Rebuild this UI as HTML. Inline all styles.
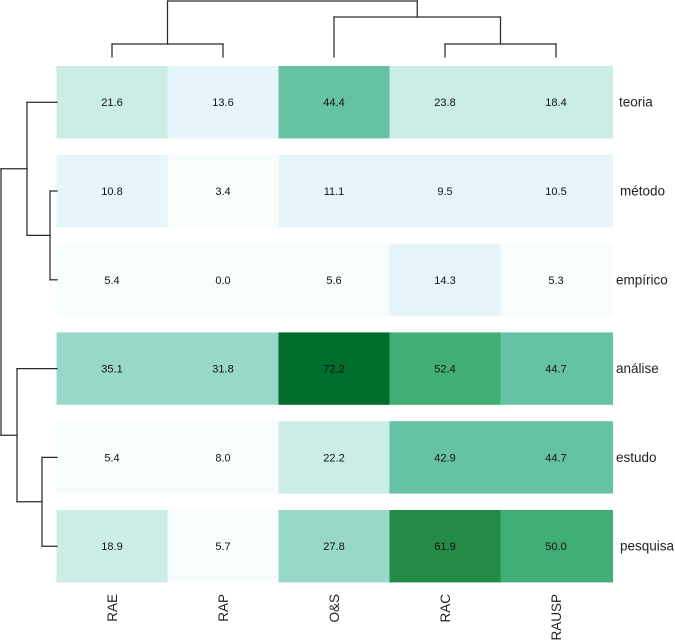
<!DOCTYPE html>
<html lang="pt">
<head>
<meta charset="utf-8">
<title>Heatmap</title>
<style>
html,body{margin:0;padding:0;background:#fff;width:675px;height:641px;overflow:hidden}
svg{display:block;font-family:"Liberation Sans",Arial,sans-serif}
</style>
</head>
<body>
<svg id="chart" xmlns="http://www.w3.org/2000/svg" width="675" height="641" viewBox="0 0 675 641">
  <g id="cells"></g>
  <g id="values"></g>
  <g id="rowlabels"></g>
  <g id="collabels"></g>
  <g id="coldendro"></g>
  <g id="rowdendro"></g>
</svg>
<script>
const columns = ['RAE', 'RAP', 'O&S', 'RAC', 'RAUSP'];
const rows = ['teoria', 'método', 'empírico', 'análise', 'estudo', 'pesquisa'];
const teoria = [21.6, 13.6, 44.4, 23.8, 18.4];
const metodo = [10.8, 3.4, 11.1, 9.5, 10.5];
const empirico = [5.4, 0.0, 5.6, 14.3, 5.3];
const analise = [35.1, 31.8, 72.2, 52.4, 44.7];
const estudo = [5.4, 8.0, 22.2, 42.9, 44.7];
const pesquisa = [18.9, 5.7, 27.8, 61.9, 50.0];
const palette = ['#F7FCFD', '#E5F5F9', '#CCECE6', '#99D8C9', '#66C2A4', '#41AE76', '#238B45', '#006D2C'];
// dendrogram merges: [left child, right child, height]; a number child is a leaf index
const colTree = [[[0, 1, 13], [2, [3, 4, 13], 40], 56]];
const rowTree = [[[0, [1, 2, 7], 30], [3, [4, 5, 15], 40], 56]];

const matrix = [teoria, metodo, empirico, analise, estudo, pesquisa];
const NS = 'http://www.w3.org/2000/svg';
const colStep = 111, rowStep = 88.8, cellH = 72.4;
const heatLeft = 56.5, heatRight = 613, heatTop = 66;
const colEdge = j => heatLeft + colStep * j;
const colCenter = j => colEdge(j) + colStep / 2;
const rowEdge = i => heatTop + rowStep * i;
const rowCenter = i => rowEdge(i) + cellH / 2;
const maxValue = Math.max(...matrix.flat());
const colorOf = v => palette[Math.min(palette.length - 1, Math.floor(v / maxValue * palette.length))];
const colHeightY = h => 57 - h;
const rowHeightX = h => 57 - h;
const rowLabelLeft = i => (i === 2 || i === 3 || i === 4) ? 616 : (i === 0 ? 619 : 620);

function make(tag, attrs, parent, text) {
  const el = document.createElementNS(NS, tag);
  for (const k in attrs) el.setAttribute(k, attrs[k]);
  if (text !== undefined) el.textContent = text;
  parent.appendChild(el);
  return el;
}

const cellsG = document.getElementById('cells');
const valuesG = document.getElementById('values');
const rowLabelsG = document.getElementById('rowlabels');
const colLabelsG = document.getElementById('collabels');

matrix.forEach((rowVals, i) => {
  rowVals.forEach((v, j) => {
    const right = j === columns.length - 1 ? heatRight : colEdge(j + 1);
    const rect = make('rect', {x: colEdge(j), y: rowEdge(i), width: right - colEdge(j), height: cellH, fill: colorOf(v)}, cellsG);
    
    
    const t = make('text', {x: colCenter(j), y: rowCenter(i) + 4, 'text-anchor': 'middle', 'font-size': 11, fill: '#111'}, valuesG, v.toFixed(1));
    
    
  });
  const lab = make('text', {x: rowLabelLeft(i), y: rowCenter(i) + 4.5, 'font-size': 13.5, fill: '#222'}, rowLabelsG, rows[i]);
  
  
});

columns.forEach((c, j) => {
  const bx = colCenter(j) + 5;
  const lab = make('text', {x: bx, y: 594, 'text-anchor': 'end', 'font-size': 13.5, fill: '#222', transform: 'rotate(-90 ' + bx + ' 594)'}, colLabelsG, c);
  
  
});

function segment(parent, x1, y1, x2, y2) {
  const ln = make('line', {x1: x1, y1: y1, x2: x2, y2: y2, stroke: '#2a2a2a', 'stroke-width': 1.25, 'stroke-linecap': 'square'}, parent);
  
  
}

function drawCol(node, parent) {
  if (typeof node === 'number') return {pos: colCenter(node), h: 0};
  const a = drawCol(node[0], parent), b = drawCol(node[1], parent);
  const y = colHeightY(node[2]);
  segment(parent, a.pos, y, b.pos, y);
  segment(parent, a.pos, y, a.pos, colHeightY(a.h));
  segment(parent, b.pos, y, b.pos, colHeightY(b.h));
  return {pos: (a.pos + b.pos) / 2, h: node[2]};
}

function drawRow(node, parent) {
  if (typeof node === 'number') return {pos: rowCenter(node), h: 0};
  const a = drawRow(node[0], parent), b = drawRow(node[1], parent);
  const x = rowHeightX(node[2]);
  segment(parent, x, a.pos, x, b.pos);
  segment(parent, x, a.pos, rowHeightX(a.h), a.pos);
  segment(parent, x, b.pos, rowHeightX(b.h), b.pos);
  return {pos: (a.pos + b.pos) / 2, h: node[2]};
}

drawCol(colTree[0], document.getElementById('coldendro'));
drawRow(rowTree[0], document.getElementById('rowdendro'));
</script>
</body>
</html>
